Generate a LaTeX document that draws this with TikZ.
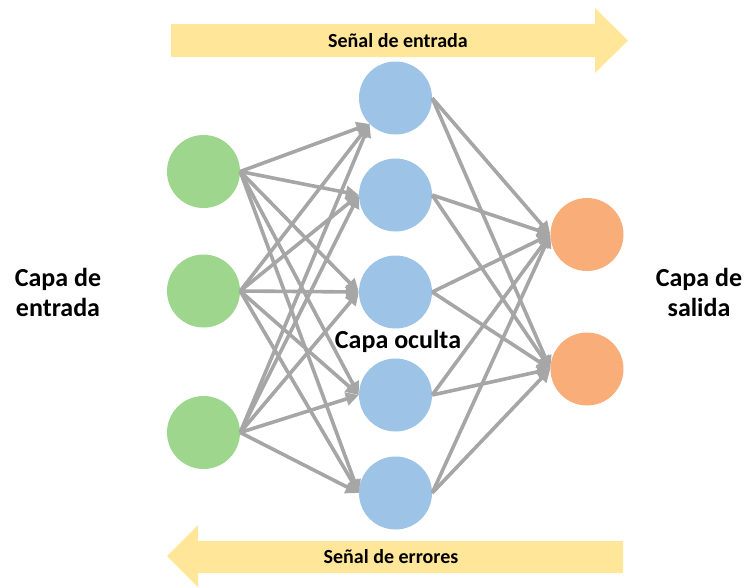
\documentclass[tikz,border=0pt]{standalone}
\usepackage{fontspec}
\setmainfont{Carlito}
\usetikzlibrary{arrows.meta}
\definecolor{ingreen}{HTML}{9DD68C}
\definecolor{hidblue}{HTML}{9DC3E6}
\definecolor{outorange}{HTML}{F9AD79}
\definecolor{bandyellow}{HTML}{FFE699}
\definecolor{edgegray}{HTML}{A6A6A6}
\tikzset{
  neuron/.style={circle, draw=none, minimum size=73pt, inner sep=0pt},
  inneuron/.style={neuron, fill=ingreen},
  hidneuron/.style={neuron, fill=hidblue},
  outneuron/.style={neuron, fill=outorange},
  edge/.style={draw=edgegray, line width=3.6pt, -{Triangle[length=13pt,width=13pt]}},
  band/.style={fill=bandyellow, draw=none},
  bandtext/.style={font=\fontsize{20}{24}\selectfont\bfseries, inner sep=0pt},
  layertext/.style={font=\fontsize{26}{30}\selectfont\bfseries, align=center, inner sep=0pt}
}
\begin{document}
\begin{tikzpicture}[x=1pt,y=-1pt]
\useasboundingbox (0,0) rectangle (746,587);
% bands
\fill[band] (171,24) -- (595,24) -- (595,8) -- (628,40.5) -- (595,73) -- (595,57) -- (171,57) -- cycle;
\fill[band] (623,541) -- (198,541) -- (198,525) -- (167,556) -- (198,587) -- (198,573) -- (623,573) -- cycle;
\node[bandtext] (sigin) at (398,41) {Señal de entrada};
\node[bandtext] (sigerr) at (391,557) {Señal de errores};
% neurons
\node[inneuron] (i1) at (203.5,171.5) {};
\node[inneuron] (i2) at (203.5,291) {};
\node[inneuron] (i3) at (203.5,432.5) {};
\node[hidneuron] (h1) at (395.5,98) {};
\node[hidneuron] (h2) at (395.5,195) {};
\node[hidneuron] (h3) at (395.5,292) {};
\node[hidneuron] (h4) at (395.5,395) {};
\node[hidneuron] (h5) at (395.5,493) {};
\node[outneuron] (o1) at (587,234.5) {};
\node[outneuron] (o2) at (587,369) {};
% input -> hidden
\foreach \i in {1,2,3}{
  \draw[edge] (i\i.east) -- (h1.south west);
  \foreach \h in {2,3,4,5}{
    \draw[edge] (i\i.east) -- (h\h.west);
  }
}
% hidden -> output
\foreach \h in {1,...,5}{
  \foreach \o in {1,2}{
    \draw[edge] (h\h.east) -- (o\o.west);
  }
}
% labels
\node[layertext] (lin) at (58,292) {Capa de\\entrada};
\node[layertext] (lout) at (699,292) {Capa de\\salida};
\node[layertext] (lhid) at (398,341) {Capa oculta};
\end{tikzpicture}
\end{document}
